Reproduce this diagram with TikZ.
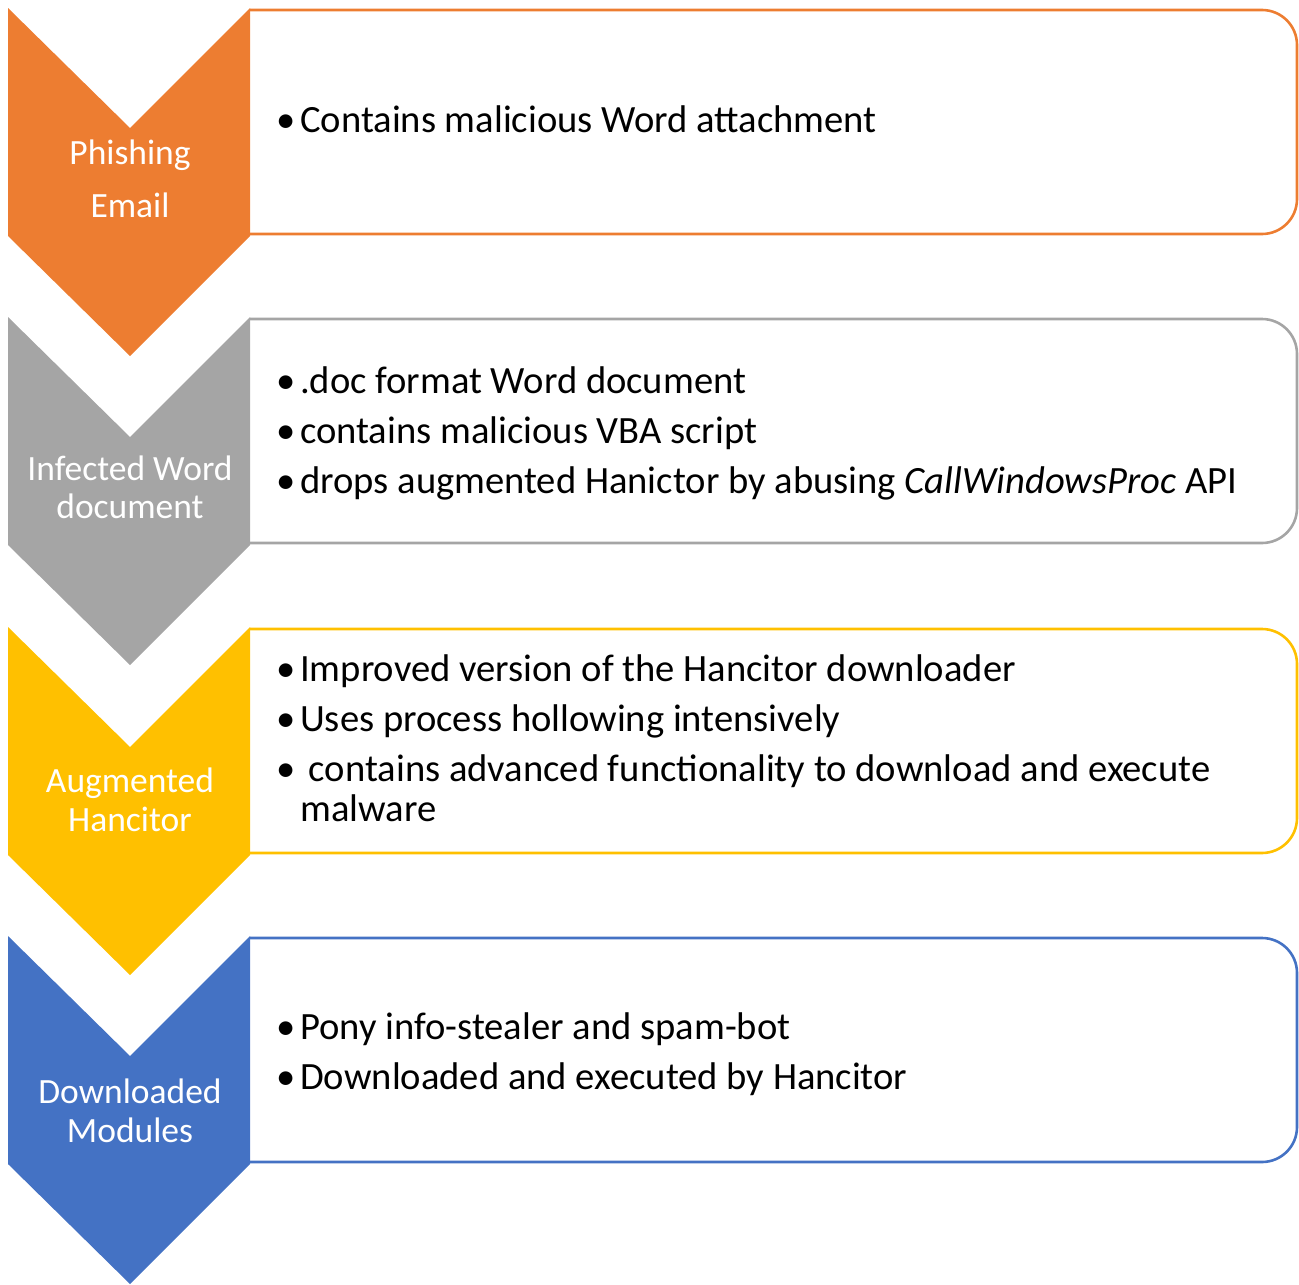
\documentclass[tikz,border=0pt]{standalone}
\usepackage{fontspec}
\setmainfont{Carlito}
\usepackage{tikz}
\usepackage{xcolor}
\definecolor{stageorange}{HTML}{ED7D31}
\definecolor{stagegray}{HTML}{A5A5A5}
\definecolor{stagegold}{HTML}{FFC000}
\definecolor{stageblue}{HTML}{4472C4}
\newcommand{\bul}{\makebox[24pt][l]{•}}

\begin{document}
\begin{tikzpicture}[
    x=1pt, y=-1pt,
    chevron/.style={fill=#1, draw=none},
    panel/.style={draw=#1, line width=2.6pt, rounded corners=35pt},
    stagelabel/.style={text=white, font=\fontsize{35.5}{40}\selectfont, anchor=base, inner sep=0pt},
    item/.style={anchor=base west, inner sep=0pt, align=left, font=\fontsize{38.6}{40}\selectfont}
]
\useasboundingbox (0,0) rectangle (1299,1285);
%====================================================
% PHISHING EMAIL
%====================================================
\begin{scope}[shift={(0,8)}]
\draw[panel=stageorange] (250,2) -- (1297,2) -- (1297,226) -- (250,226);
\fill[chevron=stageorange] (8,0) -- (130,120) -- (250,0) -- (250,228) -- (130,348) -- (8,228) -- cycle;
\node[stagelabel] (phish) at (130,156) {Phishing};
\node[stagelabel] (phish-2) at (130,209) {Email};
\node[item] (phish-a) at (276,124) {\bul Contains malicious Word attachment};
\end{scope}

%====================================================
% INFECTED WORD DOCUMENT
%====================================================
\begin{scope}[shift={(0,317)}]
\draw[panel=stagegray] (250,2) -- (1297,2) -- (1297,226) -- (250,226);
\fill[chevron=stagegray] (8,0) -- (130,120) -- (250,0) -- (250,228) -- (130,348) -- (8,228) -- cycle;
\node[stagelabel] (word) at (130,163) {Infected Word};
\node[stagelabel] (word-2) at (130,201) {document};
\node[item] (word-a) at (276,76) {\bul .doc format Word document};
\node[item] (word-b) at (276,126) {\bul contains malicious VBA script};
\node[item] (word-c) at (276,176) {\bul drops augmented Hanictor by abusing \textit{CallWindowsProc} API};
\end{scope}

%====================================================
% AUGMENTED HANCITOR
%====================================================
\begin{scope}[shift={(0,627)}]
\draw[panel=stagegold] (250,2) -- (1297,2) -- (1297,226) -- (250,226);
\fill[chevron=stagegold] (8,0) -- (130,120) -- (250,0) -- (250,228) -- (130,348) -- (8,228) -- cycle;
\node[stagelabel] (hancitor) at (130,165) {Augmented};
\node[stagelabel] (hancitor-2) at (130,204) {Hancitor};
\node[item] (hancitor-a) at (276,54) {\bul Improved version of the Hancitor downloader};
\node[item] (hancitor-b) at (276,104) {\bul Uses process hollowing intensively};
\node[item] (hancitor-c) at (276,194) {\bul\ contains advanced functionality to download and execute\\\hspace*{24pt}malware};
\end{scope}

%====================================================
% DOWNLOADED MODULES
%====================================================
\begin{scope}[shift={(0,936)}]
\draw[panel=stageblue] (250,2) -- (1297,2) -- (1297,226) -- (250,226);
\fill[chevron=stageblue] (8,0) -- (130,120) -- (250,0) -- (250,228) -- (130,348) -- (8,228) -- cycle;
\node[stagelabel] (modules) at (130,167) {Downloaded};
\node[stagelabel] (modules-2) at (130,206) {Modules};
\node[item] (modules-a) at (276,103) {\bul Pony info-stealer and spam-bot};
\node[item] (modules-b) at (276,153) {\bul Downloaded and executed by Hancitor};
\end{scope}
\end{tikzpicture}
\end{document}
